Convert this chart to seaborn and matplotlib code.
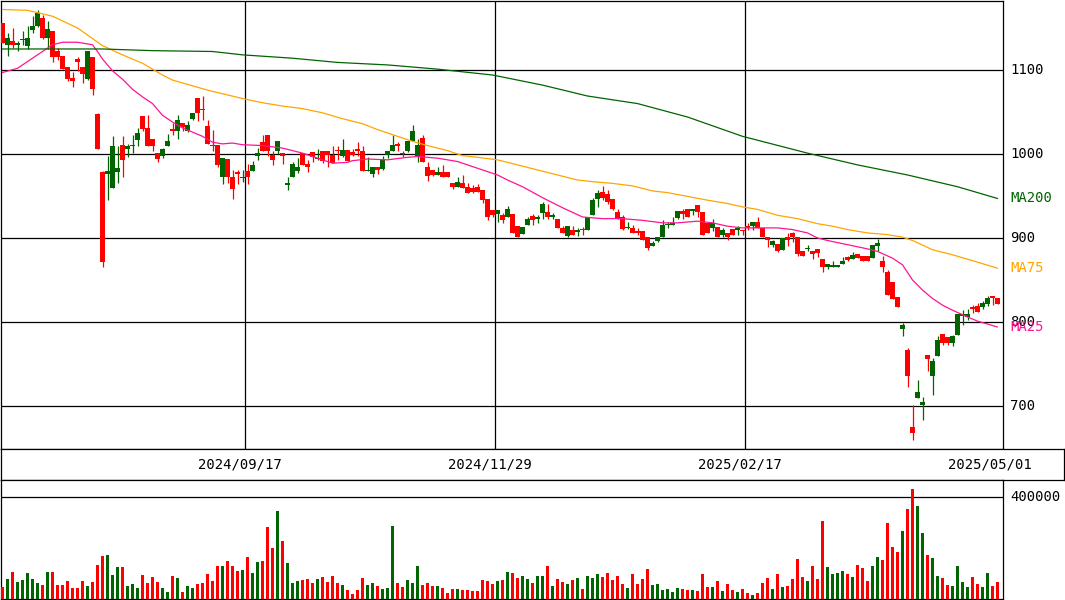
import numpy as np
import seaborn as sns
import matplotlib
matplotlib.use("Agg")
import matplotlib.pyplot as plt
from matplotlib.transforms import blended_transform_factory

# daily candles, oldest first
opens = [1156, 1130, 1134, 1130, 1136, 1128, 1148, 1152, 1162, 1138,
         1146, 1122, 1117, 1103, 1091, 1113, 1103, 1089, 1116, 1048,
         978, 976, 960, 978, 1011, 1006, 1009, 1017, 1045, 1031,
         1018, 1001, 997, 1009, 1030, 1027, 1037, 1027, 1042, 1067,
         1054, 1033, 1011, 1011, 972, 994, 972, 978, 971, 980,
         980, 998, 1014, 1023, 999, 1004, 1001, 963, 972, 980,
         1001, 988, 1002, 994, 1004, 1004, 999, 1005, 998, 1005,
         1002, 1006, 1004, 980, 976, 984, 982, 999, 1003, 1011,
         1001, 1003, 1016, 998, 1019, 984, 981, 975, 978, 979,
         966, 961, 966, 961, 960, 961, 957, 946, 933, 929,
         927, 925, 929, 914, 905, 916, 926, 923, 930, 931,
         925, 923, 912, 902, 910, 907, 910, 910, 927, 946,
         955, 952, 946, 931, 925, 912, 912, 908, 908, 901,
         891, 896, 901, 915, 916, 924, 932, 935, 932, 939,
         931, 918, 912, 913, 904, 906, 911, 909, 910, 914,
         914, 919, 912, 901, 892, 893, 886, 901, 906, 901,
         884, 887, 885, 887, 875, 866, 866, 866, 869, 877,
         875, 881, 878, 878, 876, 890, 873, 860, 848, 830,
         792, 767, 675, 709, 701, 761, 736, 760, 786, 782,
         775, 785, 807, 806, 818, 819, 818, 821, 831, 828]
highs = [1156, 1144, 1150, 1134, 1146, 1152, 1164, 1171, 1165, 1158,
         1146, 1126, 1117, 1104, 1098, 1116, 1103, 1123, 1116, 1049,
         980, 997, 1021, 1010, 1021, 1012, 1023, 1031, 1045, 1046,
         1018, 1001, 1007, 1024, 1037, 1046, 1037, 1039, 1049, 1067,
         1069, 1041, 1028, 1011, 995, 994, 981, 981, 981, 988,
         992, 1007, 1023, 1023, 1003, 1016, 1001, 972, 991, 995,
         1001, 993, 1002, 1006, 1004, 1004, 1010, 1009, 1018, 1005,
         1006, 1014, 1010, 996, 984, 985, 998, 1004, 1022, 1014,
         1003, 1016, 1035, 1018, 1023, 990, 981, 984, 987, 979,
         966, 972, 975, 965, 963, 964, 957, 946, 933, 933,
         930, 938, 929, 914, 913, 925, 929, 927, 943, 941,
         930, 923, 914, 914, 914, 912, 913, 925, 947, 957,
         962, 957, 946, 935, 927, 919, 916, 912, 908, 901,
         896, 901, 921, 919, 925, 932, 935, 935, 935, 939,
         931, 918, 923, 913, 912, 906, 911, 914, 910, 918,
         919, 925, 912, 901, 898, 893, 900, 906, 907, 901,
         884, 892, 885, 887, 875, 869, 873, 867, 877, 878,
         883, 881, 878, 878, 892, 899, 878, 862, 848, 830,
         799, 769, 701, 731, 711, 761, 757, 783, 786, 782,
         785, 810, 814, 816, 820, 822, 825, 831, 831, 828]
lows = [1132, 1117, 1126, 1123, 1130, 1125, 1144, 1151, 1137, 1125,
        1110, 1112, 1101, 1087, 1080, 1099, 1085, 1088, 1070, 1006,
        866, 945, 960, 966, 973, 996, 1001, 1009, 1027, 1009,
        1003, 990, 995, 1009, 1023, 1018, 1027, 1026, 1041, 1039,
        1041, 1012, 1004, 984, 964, 965, 946, 964, 967, 964,
        980, 993, 1004, 997, 987, 1000, 988, 957, 972, 977,
        987, 978, 990, 993, 989, 984, 989, 993, 996, 992,
        998, 998, 980, 980, 972, 976, 981, 995, 1003, 1003,
        996, 1002, 1015, 991, 990, 968, 974, 975, 972, 972,
        958, 961, 959, 954, 954, 955, 942, 921, 925, 919,
        918, 925, 906, 901, 905, 915, 916, 918, 923, 922,
        923, 912, 906, 901, 903, 902, 904, 910, 927, 937,
        945, 941, 933, 923, 910, 911, 906, 903, 898, 886,
        890, 895, 901, 912, 916, 923, 923, 925, 927, 925,
        903, 906, 908, 901, 901, 897, 904, 904, 903, 909,
        909, 912, 901, 889, 889, 883, 886, 890, 895, 878,
        878, 884, 875, 877, 859, 863, 865, 865, 869, 873,
        875, 876, 872, 872, 876, 884, 859, 832, 827, 818,
        783, 723, 659, 709, 683, 742, 713, 759, 773, 773,
        771, 785, 796, 802, 811, 812, 816, 819, 820, 821]
closes = [1132, 1138, 1130, 1132, 1137, 1138, 1152, 1168, 1138, 1149,
          1115, 1115, 1101, 1089, 1087, 1110, 1095, 1123, 1077, 1006,
          871, 980, 1009, 983, 993, 1010, 1011, 1025, 1030, 1009,
          1009, 994, 1006, 1016, 1027, 1041, 1032, 1035, 1049, 1049,
          1052, 1012, 1009, 987, 995, 972, 958, 976, 972, 972,
          987, 1001, 1004, 1003, 993, 1016, 997, 965, 988, 984,
          987, 984, 996, 995, 992, 999, 989, 1003, 1005, 992,
          999, 1003, 980, 981, 984, 981, 994, 1004, 1011, 1010,
          1000, 1016, 1027, 1011, 990, 974, 975, 978, 972, 972,
          961, 967, 959, 954, 955, 955, 945, 925, 927, 933,
          921, 935, 906, 901, 913, 923, 921, 925, 941, 925,
          927, 912, 906, 914, 903, 910, 909, 925, 945, 954,
          948, 943, 935, 923, 911, 913, 906, 906, 898, 888,
          894, 901, 916, 916, 918, 932, 929, 925, 935, 931,
          903, 906, 918, 901, 910, 901, 904, 912, 908, 912,
          919, 912, 901, 897, 896, 885, 900, 898, 901, 881,
          879, 888, 881, 882, 866, 869, 867, 867, 873, 874,
          880, 876, 872, 873, 892, 894, 866, 832, 827, 818,
          796, 736, 668, 717, 705, 756, 754, 779, 775, 775,
          783, 810, 809, 810, 816, 812, 822, 828, 829, 821]
# volume in thousands of shares
volume_k = [48, 80, 107, 68, 76, 103, 80, 64, 56, 107,
            107, 56, 56, 72, 44, 44, 72, 52, 68, 134,
            170, 174, 95, 127, 127, 52, 60, 44, 95, 64,
            87, 68, 44, 29, 91, 84, 29, 52, 44, 60,
            64, 99, 72, 131, 131, 150, 131, 111, 115, 166,
            103, 146, 150, 284, 201, 346, 229, 142, 64, 72,
            76, 80, 64, 80, 87, 68, 91, 64, 56, 36,
            21, 36, 84, 56, 64, 52, 40, 44, 287, 64,
            48, 76, 64, 131, 56, 64, 52, 52, 44, 25,
            40, 40, 36, 36, 33, 33, 76, 72, 60, 72,
            76, 107, 103, 84, 91, 80, 64, 91, 91, 131,
            52, 80, 68, 60, 76, 84, 40, 91, 84, 99,
            87, 103, 76, 91, 60, 44, 99, 60, 80, 119,
            56, 60, 36, 40, 29, 44, 40, 36, 36, 33,
            99, 48, 48, 72, 33, 60, 36, 29, 40, 25,
            17, 25, 64, 84, 40, 99, 48, 52, 80, 158,
            87, 72, 131, 80, 307, 127, 99, 103, 111, 99,
            87, 134, 123, 72, 131, 166, 154, 299, 205, 185,
            268, 354, 433, 366, 260, 174, 162, 91, 84, 56,
            52, 131, 68, 48, 87, 60, 48, 103, 52, 68]

# moving averages (candle index, price)
ma25_idx = [0, 3, 5, 8, 10, 12, 15, 18, 19, 20, 22, 24, 26, 28, 30, 32, 34, 36, 38, 40,
            42, 44, 46, 48, 52, 56, 58, 60, 64, 66, 69, 70, 73, 77, 81, 83, 87, 91, 95, 99,
            101, 104, 108, 112, 116, 120, 124, 128, 132, 135, 139, 142, 145, 148, 152, 155,
            158, 161, 163, 165, 169, 173, 175, 178, 180, 182, 184, 186, 188, 190, 193, 195, 199]
ma25_val = [1097, 1102, 1110, 1122, 1130, 1133, 1133, 1130, 1122, 1113, 1099, 1089, 1077, 1068,
            1060, 1046, 1038, 1031, 1026, 1021, 1014, 1012, 1013, 1011, 1010, 1007, 1004, 1001,
            993, 989, 990, 992, 994, 993, 996, 997, 995, 991, 983, 975, 969, 961, 948, 936, 925,
            923, 923, 921, 918, 918, 920, 918, 914, 912, 912, 912, 910, 906, 900, 897, 892, 887,
            884, 876, 868, 850, 838, 828, 820, 814, 806, 801, 794]
ma75_idx = [0, 5, 10, 15, 20, 24, 28, 32, 34, 41, 48, 52, 56, 60, 64, 68, 72, 75, 79, 82,
            85, 89, 92, 95, 99, 107, 115, 118, 122, 126, 130, 133, 141, 145, 148, 151, 155, 159,
            163, 166, 169, 173, 177, 180, 182, 186, 190, 194, 199]
ma75_val = [1172, 1171, 1164, 1150, 1129, 1118, 1108, 1094, 1088, 1076, 1066, 1061, 1057, 1054,
            1049, 1042, 1036, 1029, 1021, 1015, 1010, 1004, 998, 996, 993, 981, 969, 967, 965,
            962, 956, 954, 945, 941, 937, 934, 927, 923, 917, 914, 910, 906, 904, 901, 897, 886,
            880, 873, 864]
ma200_idx = [0, 20, 30, 42, 48, 58, 67, 77, 87, 98, 108, 117, 127, 137, 148, 161, 171, 181, 191, 199]
ma200_val = [1125, 1125, 1123, 1122, 1118, 1114, 1109, 1106, 1101, 1094, 1082, 1069, 1060, 1044,
             1021, 1001, 987, 975, 961, 947]

price_levels = [700, 800, 900, 1000, 1100]
date_idx = [49, 99, 149, 199]
date_labels = ["2024/09/17", "2024/11/29", "2025/02/17", "2025/05/01"]

UP = "#006400"
DOWN = "#ff0000"
C25 = "#ff1493"
C75 = "#ffa500"
C200 = "#006400"

sns.set_style("white")
plt.rcParams["font.family"] = ["DejaVu Sans Mono", "DejaVu Sans"]

W, H = 1065, 600


def frac(x0, y0, x1, y1):
    return [x0 / W, 1 - y1 / H, (x1 - x0) / W, (y1 - y0) / H]


fig = plt.figure(figsize=(W / 100, H / 100), dpi=100)
ax = fig.add_axes(frac(1, 1, 1003, 449))
ax_d = fig.add_axes(frac(1, 449, 1064, 480))
ax_v = fig.add_axes(frac(1, 480, 1003, 599))

o = np.array(opens, float)
h = np.array(highs, float)
l = np.array(lows, float)
c = np.array(closes, float)
idx = np.arange(len(o))
cols = np.where(c >= o, UP, DOWN)

# candles
ax.vlines(idx, l, h, colors=cols, lw=0.9, zorder=3)
body_bottom = np.minimum(o, c)
body_h = np.maximum(np.abs(c - o), 1.3)
ax.bar(idx, body_h, bottom=body_bottom, width=0.82, color=cols, lw=0, zorder=4)

# moving averages
sns.lineplot(x=ma25_idx, y=ma25_val, ax=ax, color=C25, lw=0.9, zorder=5)
sns.lineplot(x=ma75_idx, y=ma75_val, ax=ax, color=C75, lw=0.9, zorder=5)
sns.lineplot(x=ma200_idx, y=ma200_val, ax=ax, color=C200, lw=0.9, zorder=5)

for p in price_levels:
    ax.axhline(p, color="black", lw=0.9, zorder=1)
for d in date_idx[:-1]:
    ax.axvline(d - 0.5, color="black", lw=0.9, zorder=1)

ax.set_xlim((1 - 2.5) / 5, (1003 - 2.5) / 5)
ax.set_ylim(1183.3 - 1.1905 * 449, 1183.3 - 1.1905 * 1)

lab_tr = blended_transform_factory(fig.transFigure, ax.transData)
for p in price_levels:
    ax.text(1010 / W, p, str(p), transform=lab_tr, fontsize=10, va="center", ha="left",
            color="black", clip_on=False)
ax.text(1010 / W, ma200_val[-1], "MA200", transform=lab_tr, fontsize=10, va="center",
        ha="left", color=C200, clip_on=False)
ax.text(1010 / W, ma75_val[-1], "MA75", transform=lab_tr, fontsize=10, va="center",
        ha="left", color=C75, clip_on=False)
ax.text(1010 / W, ma25_val[-1], "MA25", transform=lab_tr, fontsize=10, va="center",
        ha="left", color=C25, clip_on=False)

# date strip
ax_d.set_xlim(0, 1)
ax_d.set_ylim(0, 1)
date_tr = blended_transform_factory(ax.transData, ax_d.transAxes)
for d, s in zip(date_idx, date_labels):
    ax_d.text(d - 1.6, 0.5, s, transform=date_tr, fontsize=10, ha="center", va="center",
              color="black")

# volume
vol = np.array(volume_k) * 1000
ax_v.bar(idx, vol, width=0.42, color=cols, lw=0, zorder=3)
ax_v.axhline(400000, color="black", lw=0.9, zorder=1)
ax_v.set_xlim(ax.get_xlim())
ax_v.set_ylim(0, 468000)
vol_tr = blended_transform_factory(fig.transFigure, ax_v.transData)
ax_v.text(1010 / W, 400000, "400000", transform=vol_tr, fontsize=10, va="center", ha="left",
          color="black", clip_on=False)

for a in (ax, ax_d, ax_v):
    a.set_xticks([])
    a.set_yticks([])
    a.set_xlabel("")
    a.set_ylabel("")
    a.set_facecolor("white")
    for sp in a.spines.values():
        sp.set_visible(True)
        sp.set_color("black")
        sp.set_linewidth(0.9)
    if a.get_legend() is not None:
        a.get_legend().remove()

fig.savefig("out.png", dpi=100, facecolor="white")
